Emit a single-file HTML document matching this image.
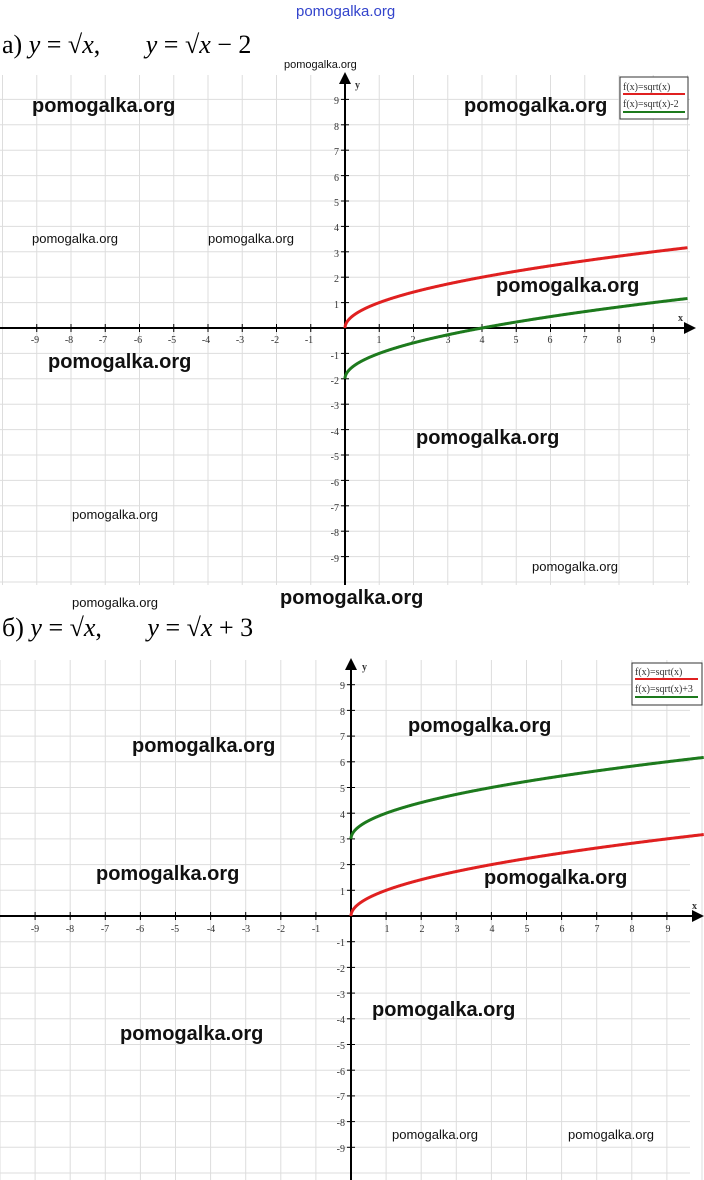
<!DOCTYPE html><html><head><meta charset="utf-8"><style>
body{margin:0;width:704px;height:1180px;background:#fff;overflow:hidden;position:relative;font-family:"Liberation Serif",serif}
.t{position:absolute;font-size:26px;white-space:nowrap}
.w{position:absolute;font-family:"Liberation Sans",sans-serif;font-weight:bold;font-size:20px;white-space:nowrap;color:#111}
.ws{position:absolute;font-family:"Liberation Sans",sans-serif;font-size:13px;white-space:nowrap;color:#111}
svg{position:absolute;left:0;top:0}
svg text{font-family:"Liberation Serif",serif;font-size:10px;fill:#333}
</style></head><body>
<svg width="704" height="1180">
<g id="g1" stroke="#ddd" stroke-width="1"></g>
<g id="g2" stroke="#ddd" stroke-width="1"></g>
<g id="t1" stroke="#000" stroke-width="1"></g>
<g id="t2" stroke="#000" stroke-width="1"></g>
<!-- top axes -->
<line x1="0" y1="328" x2="688" y2="328" stroke="#000" stroke-width="2"/>
<polygon points="696,328 684,322 684,334" fill="#000"/>
<line x1="345" y1="80" x2="345" y2="585" stroke="#000" stroke-width="2"/>
<polygon points="345,72 339,84 351,84" fill="#000"/>
<text x="355" y="88" font-size="12" font-weight="bold">y</text>
<text x="678" y="321" font-size="12" font-weight="bold">x</text>
<g text-anchor="middle">
<text x="35" y="343">-9</text><text x="69" y="343">-8</text><text x="103" y="343">-7</text><text x="138" y="343">-6</text><text x="172" y="343">-5</text><text x="206" y="343">-4</text><text x="240" y="343">-3</text><text x="275" y="343">-2</text><text x="309" y="343">-1</text>
<text x="379" y="343">1</text><text x="413" y="343">2</text><text x="448" y="343">3</text><text x="482" y="343">4</text><text x="516" y="343">5</text><text x="550" y="343">6</text><text x="585" y="343">7</text><text x="619" y="343">8</text><text x="653" y="343">9</text>
</g>
<g text-anchor="end">
<text x="339" y="104">9</text><text x="339" y="130">8</text><text x="339" y="155">7</text><text x="339" y="181">6</text><text x="339" y="206">5</text><text x="339" y="231">4</text><text x="339" y="257">3</text><text x="339" y="282">2</text><text x="339" y="308">1</text>
<text x="339" y="359">-1</text><text x="339" y="384">-2</text><text x="339" y="409">-3</text><text x="339" y="435">-4</text><text x="339" y="460">-5</text><text x="339" y="486">-6</text><text x="339" y="511">-7</text><text x="339" y="536">-8</text><text x="339" y="562">-9</text>
</g>
<path id="p1a" fill="none" stroke="#e02020" stroke-width="3"/>
<path id="p1b" fill="none" stroke="#1d7a1d" stroke-width="3"/>
<rect x="620" y="77" width="68" height="42" fill="#fff" stroke="#333"/>
<text x="623" y="90" font-size="8">f(x)=sqrt(x)</text>
<line x1="623" y1="94" x2="685" y2="94" stroke="#e02020" stroke-width="2"/>
<text x="623" y="107" font-size="8">f(x)=sqrt(x)-2</text>
<line x1="623" y1="112" x2="685" y2="112" stroke="#1d7a1d" stroke-width="2"/>
<!-- bottom axes -->
<line x1="0" y1="916" x2="696" y2="916" stroke="#000" stroke-width="2"/>
<polygon points="704,916 692,910 692,922" fill="#000"/>
<line x1="351" y1="668" x2="351" y2="1180" stroke="#000" stroke-width="2"/>
<polygon points="351,658 345,670 357,670" fill="#000"/>
<text x="362" y="670" font-size="12" font-weight="bold">y</text>
<text x="692" y="909" font-size="12" font-weight="bold">x</text>
<g text-anchor="middle">
<text x="35" y="932">-9</text><text x="70" y="932">-8</text><text x="105" y="932">-7</text><text x="140" y="932">-6</text><text x="175" y="932">-5</text><text x="211" y="932">-4</text><text x="246" y="932">-3</text><text x="281" y="932">-2</text><text x="316" y="932">-1</text>
<text x="387" y="932">1</text><text x="422" y="932">2</text><text x="457" y="932">3</text><text x="492" y="932">4</text><text x="527" y="932">5</text><text x="562" y="932">6</text><text x="597" y="932">7</text><text x="632" y="932">8</text><text x="668" y="932">9</text>
</g>
<g text-anchor="end">
<text x="345" y="689">9</text><text x="345" y="715">8</text><text x="345" y="740">7</text><text x="345" y="766">6</text><text x="345" y="792">5</text><text x="345" y="818">4</text><text x="345" y="843">3</text><text x="345" y="869">2</text><text x="345" y="895">1</text>
<text x="345" y="946">-1</text><text x="345" y="972">-2</text><text x="345" y="998">-3</text><text x="345" y="1023">-4</text><text x="345" y="1049">-5</text><text x="345" y="1075">-6</text><text x="345" y="1100">-7</text><text x="345" y="1126">-8</text><text x="345" y="1152">-9</text>
</g>
<path id="p2a" fill="none" stroke="#e02020" stroke-width="3"/>
<path id="p2b" fill="none" stroke="#1d7a1d" stroke-width="3"/>
<rect x="632" y="663" width="70" height="42" fill="#fff" stroke="#333"/>
<text x="635" y="675" font-size="8">f(x)=sqrt(x)</text>
<line x1="635" y1="679" x2="698" y2="679" stroke="#e02020" stroke-width="2"/>
<text x="635" y="692" font-size="8">f(x)=sqrt(x)+3</text>
<line x1="635" y1="697" x2="698" y2="697" stroke="#1d7a1d" stroke-width="2"/>
</svg>
<div class="t" style="left:2px;top:30px">а) <i>y</i> = √<i>x</i>,&nbsp;&nbsp;&nbsp;&nbsp;&nbsp;&nbsp; <i>y</i> = √<i>x</i> − 2</div>
<div class="t" style="left:2px;top:613px">б) <i>y</i> = √<i>x</i>,&nbsp;&nbsp;&nbsp;&nbsp;&nbsp;&nbsp; <i>y</i> = √<i>x</i> + 3</div>
<div class="ws" style="left:296px;top:3px;color:#3344cc;font-size:15px">pomogalka.org</div>
<div class="ws" style="left:284px;top:59px;font-size:11px">pomogalka.org</div>
<div class="w" style="left:32px;top:95px">pomogalka.org</div>
<div class="w" style="left:464px;top:95px">pomogalka.org</div>
<div class="ws" style="left:32px;top:231px">pomogalka.org</div>
<div class="ws" style="left:208px;top:231px">pomogalka.org</div>
<div class="w" style="left:496px;top:275px">pomogalka.org</div>
<div class="w" style="left:48px;top:351px">pomogalka.org</div>
<div class="w" style="left:416px;top:427px">pomogalka.org</div>
<div class="ws" style="left:72px;top:507px">pomogalka.org</div>
<div class="ws" style="left:532px;top:559px">pomogalka.org</div>
<div class="ws" style="left:72px;top:595px">pomogalka.org</div>
<div class="w" style="left:280px;top:587px">pomogalka.org</div>
<div class="w" style="left:408px;top:715px">pomogalka.org</div>
<div class="w" style="left:132px;top:735px">pomogalka.org</div>
<div class="w" style="left:96px;top:863px">pomogalka.org</div>
<div class="w" style="left:484px;top:867px">pomogalka.org</div>
<div class="w" style="left:372px;top:999px">pomogalka.org</div>
<div class="w" style="left:120px;top:1023px">pomogalka.org</div>
<div class="ws" style="left:392px;top:1127px">pomogalka.org</div>
<div class="ws" style="left:568px;top:1127px">pomogalka.org</div>
<script>
function grid(id,ox,oy,dx,dy,y0,y1){var g=document.getElementById(id),s='';
for(var k=-12;k<=12;k++){var x=ox+k*dx;if(x>=0&&x<=704)s+='<line x1="'+x+'" y1="'+y0+'" x2="'+x+'" y2="'+y1+'"/>';}
for(var k=-12;k<=12;k++){var y=oy-k*dy;if(y>=y0&&y<=y1)s+='<line x1="0" y1="'+y+'" x2="690" y2="'+y+'"/>';}
g.innerHTML=s;}
function ticks(id,ox,oy,dx,dy){var s='';for(var k=-9;k<=9;k++){if(!k)continue;var x=ox+k*dx,y=oy-k*dy;
s+='<line x1="'+x+'" y1="'+(oy-4)+'" x2="'+x+'" y2="'+(oy+4)+'"/>';
s+='<line x1="'+(ox-4)+'" y1="'+y+'" x2="'+(ox+4)+'" y2="'+y+'"/>';}
document.getElementById(id).innerHTML=s;}
function curve(id,ox,oy,dx,dy,c,xm){var d='';for(var i=0;i<=400;i++){var x=xm*Math.pow(i/400,2);var px=ox+x*dx,py=oy-(Math.sqrt(x)+c)*dy;d+=(i?'L':'M')+px.toFixed(2)+' '+py.toFixed(2);}document.getElementById(id).setAttribute('d',d);}
grid('g1',345,328,34.25,25.4,75,585);
grid('g2',351,916,35.1,25.7,660,1180);
ticks('t1',345,328,34.25,25.4);ticks('t2',351,916,35.1,25.7);
curve('p1a',345,328,34.25,25.4,0,10);curve('p1b',345,328,34.25,25.4,-2,10);
curve('p2a',351,916,35.1,25.7,0,10.05);curve('p2b',351,916,35.1,25.7,3,10.05);
</script>
</body></html>
